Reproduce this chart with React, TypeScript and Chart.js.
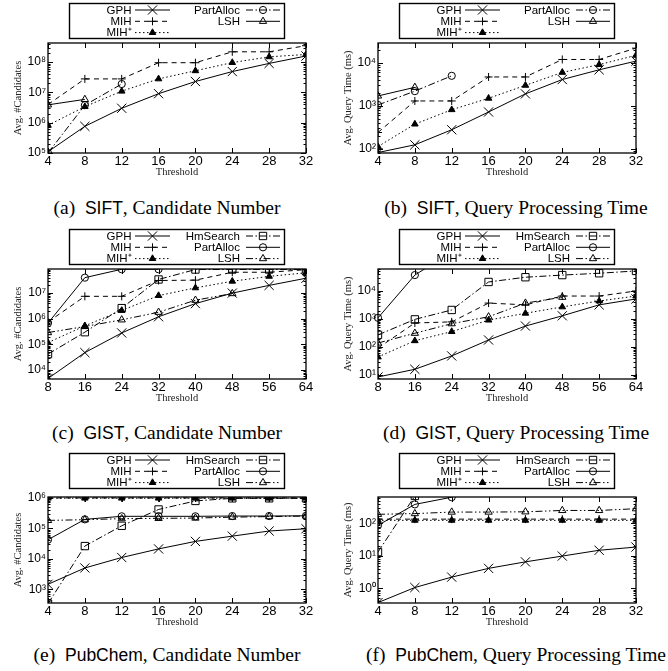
import React, { useEffect, useRef } from 'react';
import { Chart, registerables } from 'chart.js';
import { drawPoint } from 'chart.js/helpers';

Chart.register(...registerables);

// ---------- data ----------
const siftX = [4, 8, 12, 16, 20, 24, 28, 32];
const gistX = [8, 16, 24, 32, 40, 48, 56, 64];
const pubX = [4, 8, 12, 16, 20, 24, 28, 32];

// (a) SIFT, candidate number
const aGPH = [1.1e5, 7.6e5, 3.0e6, 9.1e6, 2.3e7, 4.9e7, 9.1e7, 1.6e8];
const aMIH = [4.0e6, 2.8e7, 2.8e7, 9.6e7, 9.6e7, 2.2e8, 2.2e8, 3.5e8];
const aMIHp = [8.2e5, 3.4e6, 1.1e7, 2.8e7, 5.2e7, 9.7e7, 1.5e8, 1.8e8];
const aPart = [1.0e5, 3.8e6, 1.9e7];
const aLSH = [3.9e6, 5.9e6];

// (b) SIFT, query time (ms)
const bGPH = [82, 124, 278, 720, 1900, 4100, 6900, 11000];
const bMIH = [240, 1300, 1300, 4700, 4700, 12000, 12000, 22000];
const bMIHp = [113, 376, 813, 1500, 3000, 6000, 9100, 15000];
const bPart = [1050, 2200, 5000];
const bLSH = [1700, 2700];

// (c) GIST, candidate number
const cGPH = [4.7e3, 4.8e4, 2.8e5, 1.2e6, 3.9e6, 1.0e7, 2.0e7, 3.8e7];
const cMIH = [7.5e5, 7.5e6, 7.5e6, 3.1e7, 3.2e7, 6.5e7, 6.5e7, 8.2e7];
const cMIHp = [1.18e5, 5.3e5, 2.1e6, 8.0e6, 1.6e7, 2.9e7, 4.5e7, 6.2e7];
const cHm = [4.2e4, 3.0e5, 2.6e6, 3.4e7, 8.3e7, 8.3e7, 8.3e7, 8.3e7];
const cPart = [6.8e5, 4.0e7, 8.5e7, 8.5e7];
const cLSH = [2.9e5, 5.0e5, 9.1e5, 1.8e6, 5.3e6, 9.6e6];

// (d) GIST, query time (ms)
const dGPH = [8.5, 16, 48, 178, 560, 1300, 3200, 5200];
const dMIH = [92, 720, 790, 3700, 3200, 6600, 6600, 10000];
const dMIHp = [44, 167, 355, 910, 1600, 2700, 4400, 6600];
const dHm = [270, 970, 2100, 21000, 31000, 37000, 43000, 52000];
const dPart = [1100, 37000, 250000];
const dLSH = [139, 310, 680, 1200, 3700, 6000];

// (e) PubChem, candidate number
const eGPH = [1460, 5000, 11000, 21000, 37000, 55000, 81000, 96000];
const eMIH = [9.8e5, 9.8e5, 9.8e5, 9.8e5, 9.8e5, 9.8e5, 9.8e5, 9.8e5];
const eMIHp = [9.6e5, 9.6e5, 9.6e5, 9.6e5, 9.6e5, 9.6e5, 9.6e5, 9.6e5];
const eHm = [340, 2.6e4, 1.2e5, 4.1e5, 7.8e5, 9.5e5, 9.5e5, 9.5e5];
const ePart = [4.2e4, 1.95e5, 2.45e5, 2.45e5, 2.45e5, 2.5e5, 2.5e5, 2.55e5];
const eLSH = [1.8e5, 1.9e5, 2.05e5, 2.1e5, 2.15e5, 2.3e5, 2.4e5, 2.5e5];

// (f) PubChem, query time (ms)
const fGPH = [0.36, 1.05, 2.2, 4.1, 6.5, 9.8, 14.8, 18.6];
const fMIH = [135, 135, 135, 135, 135, 135, 135, 135];
const fMIHp = [124, 124, 124, 124, 124, 124, 124, 124];
const fHm = [13, 700];
const fPart = [87, 385, 640];
const fLSH = [190, 200, 223, 223, 227, 250, 250, 283];

// y ranges
const aRange = [1e5, 4.3e8];
const bRange = [80, 2.9e4];
const cRange = [4.5e3, 8.7e7];
const dRange = [7.2, 6.1e4];
const eRange = [357, 1.05e6];
const fRange = [0.35, 650];

// ---------- styles ----------
type Sty = { pointStyle: string; radius: number; filled: boolean; dash: number[] };
const ST: Record<string, Sty> = {
  GPH: { pointStyle: 'crossRot', radius: 6.5, filled: false, dash: [] },
  MIH: { pointStyle: 'cross', radius: 4, filled: false, dash: [5, 4] },
  MIHp: { pointStyle: 'triangle', radius: 3.8, filled: true, dash: [1.5, 2.5] },
  PartA: { pointStyle: 'circle', radius: 3.6, filled: false, dash: [7, 2.5, 1.5, 2.5] },
  LSHA: { pointStyle: 'triangle', radius: 4.2, filled: false, dash: [] },
  Hm: { pointStyle: 'rect', radius: 5.2, filled: false, dash: [7, 2.5, 1.5, 2.5] },
  Part: { pointStyle: 'circle', radius: 3.6, filled: false, dash: [] },
  LSH: { pointStyle: 'triangle', radius: 4.2, filled: false, dash: [7, 2.5, 1.5, 2.5, 1.5, 2.5] },
};

type Series = { name: string; xs: number[]; ys: number[]; sty: Sty; clipTop?: boolean };
type Panel = {
  letter: string; ds: string; title: string; yTitle: string;
  col: number; row: number; xMin: number; xMax: number; step: number;
  range: number[]; series: Series[];
};

const Y_CAND = 'Avg. #Candidates';
const Y_TIME = 'Avg. Query Time (ms)';

const panels: Panel[] = [
  { letter: 'a', ds: 'SIFT', title: 'Candidate Number', yTitle: Y_CAND, col: 0, row: 0, xMin: 4, xMax: 32, step: 4, range: aRange,
    series: [
      { name: 'GPH', xs: siftX, ys: aGPH, sty: ST.GPH },
      { name: 'MIH', xs: siftX, ys: aMIH, sty: ST.MIH },
      { name: 'MIH⁺', xs: siftX, ys: aMIHp, sty: ST.MIHp },
      { name: 'PartAlloc', xs: siftX, ys: aPart, sty: ST.PartA },
      { name: 'LSH', xs: siftX, ys: aLSH, sty: ST.LSHA },
    ] },
  { letter: 'b', ds: 'SIFT', title: 'Query Processing Time', yTitle: Y_TIME, col: 1, row: 0, xMin: 4, xMax: 32, step: 4, range: bRange,
    series: [
      { name: 'GPH', xs: siftX, ys: bGPH, sty: ST.GPH },
      { name: 'MIH', xs: siftX, ys: bMIH, sty: ST.MIH },
      { name: 'MIH⁺', xs: siftX, ys: bMIHp, sty: ST.MIHp },
      { name: 'PartAlloc', xs: siftX, ys: bPart, sty: ST.PartA },
      { name: 'LSH', xs: siftX, ys: bLSH, sty: ST.LSHA },
    ] },
  { letter: 'c', ds: 'GIST', title: 'Candidate Number', yTitle: Y_CAND, col: 0, row: 1, xMin: 8, xMax: 64, step: 8, range: cRange,
    series: [
      { name: 'GPH', xs: gistX, ys: cGPH, sty: ST.GPH },
      { name: 'MIH', xs: gistX, ys: cMIH, sty: ST.MIH },
      { name: 'MIH⁺', xs: gistX, ys: cMIHp, sty: ST.MIHp },
      { name: 'HmSearch', xs: gistX, ys: cHm, sty: ST.Hm },
      { name: 'PartAlloc', xs: gistX, ys: cPart, sty: ST.Part },
      { name: 'LSH', xs: gistX, ys: cLSH, sty: ST.LSH },
    ] },
  { letter: 'd', ds: 'GIST', title: 'Query Processing Time', yTitle: Y_TIME, col: 1, row: 1, xMin: 8, xMax: 64, step: 8, range: dRange,
    series: [
      { name: 'GPH', xs: gistX, ys: dGPH, sty: ST.GPH },
      { name: 'MIH', xs: gistX, ys: dMIH, sty: ST.MIH },
      { name: 'MIH⁺', xs: gistX, ys: dMIHp, sty: ST.MIHp },
      { name: 'HmSearch', xs: gistX, ys: dHm, sty: ST.Hm },
      { name: 'PartAlloc', xs: gistX, ys: dPart, sty: ST.Part, clipTop: true },
      { name: 'LSH', xs: gistX, ys: dLSH, sty: ST.LSH },
    ] },
  { letter: 'e', ds: 'PubChem', title: 'Candidate Number', yTitle: Y_CAND, col: 0, row: 2, xMin: 4, xMax: 32, step: 4, range: eRange,
    series: [
      { name: 'GPH', xs: pubX, ys: eGPH, sty: ST.GPH },
      { name: 'MIH', xs: pubX, ys: eMIH, sty: ST.MIH },
      { name: 'MIH⁺', xs: pubX, ys: eMIHp, sty: ST.MIHp },
      { name: 'HmSearch', xs: pubX, ys: eHm, sty: ST.Hm },
      { name: 'PartAlloc', xs: pubX, ys: ePart, sty: ST.Part },
      { name: 'LSH', xs: pubX, ys: eLSH, sty: ST.LSH },
    ] },
  { letter: 'f', ds: 'PubChem', title: 'Query Processing Time', yTitle: Y_TIME, col: 1, row: 2, xMin: 4, xMax: 32, step: 4, range: fRange,
    series: [
      { name: 'GPH', xs: pubX, ys: fGPH, sty: ST.GPH },
      { name: 'MIH', xs: pubX, ys: fMIH, sty: ST.MIH },
      { name: 'MIH⁺', xs: pubX, ys: fMIHp, sty: ST.MIHp },
      { name: 'HmSearch', xs: pubX, ys: fHm, sty: ST.Hm },
      { name: 'PartAlloc', xs: pubX, ys: fPart, sty: ST.Part },
      { name: 'LSH', xs: pubX, ys: fLSH, sty: ST.LSH },
    ] },
];

// ---------- layout ----------
const COL_LEFT = [0, 330];
const COL_W = [330, 338];
const ROW_TOP = [0, 222, 446];
const ROW_PADTOP = [43, 47, 51];
const ROW_BOTTOM = [153, 157, 157]; // chart-area bottom in canvas coords
const ROW_LEGTOP = [3, 7, 7];
const CAN_H = 195;
const PLOT_L = 48;
const PLOT_R = 306;
const Y_W = 40;
const X_H = 30;
const CAP_Y = [208, 433, 655];
const CAP_CX = [167, 516];

const SUP = '⁰¹²³⁴⁵⁶⁷⁸⁹';
function sup(n: number): string {
  return (n < 0 ? '⁻' : '') + String(Math.abs(n)).split('').map((d) => SUP[+d]).join('');
}

const SANS = '"Liberation Sans", Arial, sans-serif';
const SERIF = '"Liberation Serif", "Times New Roman", serif';

function setStyle(ctx: CanvasRenderingContext2D, sty: Sty) {
  ctx.strokeStyle = '#000';
  ctx.fillStyle = sty.filled ? '#000' : 'rgba(0,0,0,0)';
  ctx.lineWidth = 1;
}

function makePlugin(p: Panel) {
  return {
    id: 'decor' + p.letter,
    afterDraw(chart: any) {
      const ctx: CanvasRenderingContext2D = chart.ctx;
      const a = chart.chartArea;
      const xs = chart.scales.x;
      const ys = chart.scales.y;
      ctx.save();
      ctx.setLineDash([]);
      ctx.strokeStyle = '#000';
      ctx.lineWidth = 1;
      // ticks
      ctx.beginPath();
      for (let v = p.xMin; v <= p.xMax + 1e-9; v += p.step) {
        const px = Math.round(xs.getPixelForValue(v)) + 0.5;
        ctx.moveTo(px, a.bottom); ctx.lineTo(px, a.bottom - 5);
        ctx.moveTo(px, a.top); ctx.lineTo(px, a.top + 5);
      }
      const lo = Math.floor(Math.log10(p.range[0]));
      const hi = Math.ceil(Math.log10(p.range[1]));
      for (let e = lo; e <= hi; e++) {
        for (let m = 1; m < 10; m++) {
          const v = m * Math.pow(10, e);
          if (v < p.range[0] * 0.999 || v > p.range[1] * 1.001) continue;
          const py = Math.round(ys.getPixelForValue(v)) + 0.5;
          const len = m === 1 ? 5 : 2.5;
          ctx.moveTo(a.left, py); ctx.lineTo(a.left + len, py);
          ctx.moveTo(a.right, py); ctx.lineTo(a.right - len, py);
        }
      }
      ctx.stroke();
      // frame
      ctx.lineWidth = 1.3;
      ctx.strokeRect(a.left, a.top, a.right - a.left, a.bottom - a.top);

      // legend box
      const lt = ROW_LEGTOP[p.row];
      ctx.lineWidth = 1.4;
      ctx.strokeRect(69.5, lt + 0.5, 215, 35);
      ctx.textAlign = 'right';
      ctx.textBaseline = 'middle';
      const cols = [
        { tr: 131.5, s1: 135, s2: 170 },
        { tr: 240, s1: 246, s2: 280 },
      ];
      p.series.forEach((s, i) => {
        const c = i < 3 ? 0 : 1;
        const r = i < 3 ? i : i - 3;
        const cy = lt + 7 + 11.3 * r;
        const cc = cols[c];
        ctx.fillStyle = '#000';
        ctx.font = '11.5px ' + SANS;
        ctx.fillText(s.name, cc.tr, cy + 0.5);
        ctx.lineWidth = 1;
        ctx.strokeStyle = '#000';
        ctx.setLineDash(s.sty.dash);
        ctx.beginPath();
        ctx.moveTo(cc.s1, cy); ctx.lineTo(cc.s2, cy);
        ctx.stroke();
        ctx.setLineDash([]);
        setStyle(ctx, s.sty);
        drawPoint(ctx, { pointStyle: s.sty.pointStyle as any, radius: s.sty.radius, rotation: 0, borderWidth: 1 }, (cc.s1 + cc.s2) / 2, cy);
      });
      ctx.restore();
    },
  };
}

function PanelChart({ p }: { p: Panel }) {
  const ref = useRef<HTMLCanvasElement>(null);
  const w = COL_W[p.col];
  useEffect(() => {
    if (!ref.current) return;
    const datasets = p.series.map((s) => ({
      label: s.name,
      data: s.ys.map((y, i) => ({ x: s.xs[i], y })),
      borderColor: '#000',
      borderWidth: 1,
      borderDash: s.sty.dash,
      backgroundColor: s.sty.filled ? '#000' : 'rgba(0,0,0,0)',
      pointStyle: s.sty.pointStyle,
      pointRadius: s.sty.radius,
      pointBorderWidth: 1,
      pointBorderColor: '#000',
      pointBackgroundColor: s.sty.filled ? '#000' : 'rgba(0,0,0,0)',
      fill: false,
      tension: 0,
      ...(s.clipTop ? { clip: { left: 10, top: 0, right: 10, bottom: 10 } } : {}),
    }));
    const chart = new Chart(ref.current, {
      type: 'line',
      data: { datasets } as any,
      options: {
        animation: false,
        responsive: false,
        events: [],
        layout: {
          padding: {
            left: PLOT_L - Y_W,
            right: w - PLOT_R,
            top: ROW_PADTOP[p.row],
            bottom: CAN_H - ROW_BOTTOM[p.row] - X_H,
          },
        },
        plugins: { legend: { display: false }, tooltip: { enabled: false } },
        scales: {
          x: {
            type: 'linear',
            min: p.xMin,
            max: p.xMax,
            grid: { display: false, drawTicks: false },
            border: { display: false },
            ticks: { stepSize: p.step, autoSkip: false, maxRotation: 0, padding: 1, color: '#000', font: { family: SANS, size: 13 } },
            title: { display: true, text: 'Threshold', color: '#222', font: { family: SERIF, size: 10.5 }, padding: { top: 0, bottom: 4.2 } },
            afterFit: (s: any) => { s.height = X_H; },
          },
          y: {
            type: 'logarithmic',
            min: p.range[0],
            max: p.range[1],
            grid: { display: false, drawTicks: false },
            border: { display: false },
            ticks: {
              autoSkip: false,
              padding: 2,
              color: '#000',
              font: { family: SANS, size: 12 },
              callback: (v: any) => {
                const e = Math.log10(Number(v));
                const r = Math.round(e);
                return Math.abs(e - r) < 1e-6 ? '10' + sup(r) : '';
              },
            },
            title: { display: true, text: p.yTitle, color: '#222', font: { family: SERIF, size: 10.5 }, padding: { top: 3.7, bottom: 0 } },
            afterFit: (s: any) => { s.width = Y_W; },
          },
        },
      } as any,
      plugins: [makePlugin(p)],
    });
    return () => chart.destroy();
  }, []);
  return (
    <canvas
      ref={ref}
      width={w}
      height={CAN_H}
      style={{ position: 'absolute', left: COL_LEFT[p.col], top: ROW_TOP[p.row], width: w, height: CAN_H }}
    />
  );
}

function Caption({ p }: { p: Panel }) {
  const cx = CAP_CX[p.col];
  const cy = CAP_Y[p.row];
  return (
    <div
      style={{
        position: 'absolute', left: cx - 200, width: 400, top: cy - 12, height: 24, lineHeight: '24px',
        textAlign: 'center', fontFamily: SERIF, fontSize: 19.5, whiteSpace: 'nowrap', color: '#000',
      }}
    >
      ({p.letter})&nbsp;&nbsp;<span style={{ fontFamily: SANS, fontSize: 17.5 }}>{p.ds}</span>, {p.title}
    </div>
  );
}

export default function App() {
  return (
    <div style={{ position: 'absolute', left: 0, top: 0, width: 668, height: 671, background: '#fff', overflow: 'hidden' }}>
      {panels.map((p) => (
        <PanelChart key={'c' + p.letter} p={p} />
      ))}
      {panels.map((p) => (
        <Caption key={'t' + p.letter} p={p} />
      ))}
    </div>
  );
}
